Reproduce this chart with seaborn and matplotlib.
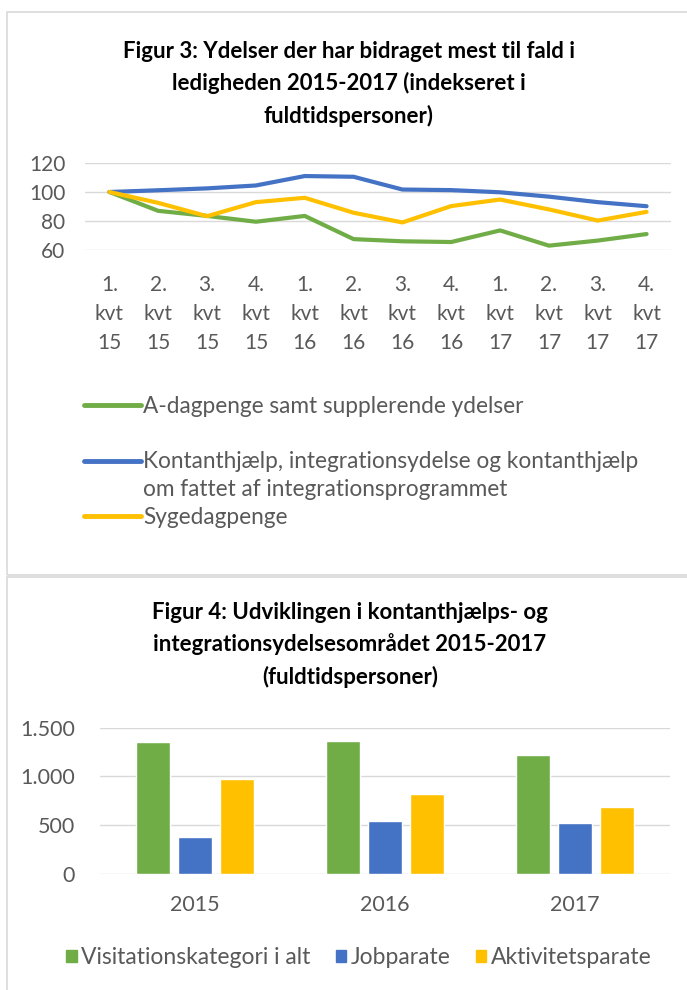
import numpy as np
import pandas as pd
import matplotlib
matplotlib.use("Agg")
import matplotlib.pyplot as plt
import seaborn as sns
from matplotlib.lines import Line2D
from matplotlib.patches import Rectangle, Patch
from matplotlib.ticker import FuncFormatter

# Figur 3 data (indekseret, 1. kvt 15 = 100)
quarters = ["1.\nkvt\n15", "2.\nkvt\n15", "3.\nkvt\n15", "4.\nkvt\n15",
            "1.\nkvt\n16", "2.\nkvt\n16", "3.\nkvt\n16", "4.\nkvt\n16",
            "1.\nkvt\n17", "2.\nkvt\n17", "3.\nkvt\n17", "4.\nkvt\n17"]
a_dagpenge = [100, 87, 83.5, 79.5, 83.5, 67.5, 66, 65.5, 73.5, 63, 66.5, 71]
kontanthjaelp = [100, 101.2, 102.5, 104.5, 111, 110.5, 101.7, 101.3, 99.8, 96.8, 93, 90.2]
sygedagpenge = [100, 92.5, 83.3, 93, 96, 85.7, 79, 90.3, 94.8, 88, 80.3, 86.3]
line_names = ["A-dagpenge samt supplerende ydelser",
              "Kontanthjælp, integrationsydelse og kontanthjælp",
              "Sygedagpenge"]
line_name_extra = "om fattet af integrationsprogrammet"

# Figur 4 data (fuldtidspersoner)
years = ["2015", "2016", "2017"]
visitation_i_alt = [1350, 1365, 1222]
jobparate = [374, 541, 524]
aktivitetsparate = [970, 820, 690]
bar_names = ["Visitationskategori i alt", "Jobparate", "Aktivitetsparate"]

GREEN, BLUE, YELLOW = "#70AD47", "#4472C4", "#FFC000"
GRID = "#D9D9D9"
TXT = "#595959"

sns.set_theme(style="white")
plt.rcParams["font.family"] = ["Lato", "DejaVu Sans"]

W, H = 687, 990
fig = plt.figure(figsize=(W / 100, H / 100), dpi=100)


def fx(px):
    return px / W


def fy(py):
    return 1 - py / H


# panel borders
fig.add_artist(Rectangle((fx(7), fy(575)), fx(700), fy(12) - fy(575), transform=fig.transFigure,
                         fill=False, edgecolor=GRID, lw=1.2))
fig.add_artist(Rectangle((fx(7), fy(1010)), fx(700), fy(577) - fy(1010), transform=fig.transFigure,
                         fill=False, edgecolor=GRID, lw=1.2))

# ---------- Figur 3 ----------
df_line = pd.DataFrame({
    "Kvartal": quarters * 3,
    "Indeks": a_dagpenge + kontanthjaelp + sygedagpenge,
    "Ydelse": [line_names[0]] * 12 + [line_names[1]] * 12 + [line_names[2]] * 12,
})

ax1 = fig.add_axes([fx(85), fy(250), fx(671) - fx(85), fy(163) - fy(250)])
sns.lineplot(data=df_line, x="Kvartal", y="Indeks", hue="Ydelse", sort=False,
             palette=[GREEN, BLUE, YELLOW], linewidth=3, ax=ax1, legend=False)
for ln in ax1.lines:
    ln.set_solid_capstyle("round")
    ln.set_solid_joinstyle("round")
ax1.set_ylim(60, 120)
ax1.set_yticks([60, 80, 100, 120])
ax1.set_xlim(-0.5, 11.5)
ax1.set_xticks(range(12))
ax1.set_xticklabels(quarters, linespacing=1.55)
ax1.set_xlabel("")
ax1.set_ylabel("")
ax1.grid(axis="y", color=GRID, lw=1)
ax1.set_axisbelow(True)
sns.despine(ax=ax1, left=True, bottom=True)
ax1.tick_params(axis="both", length=0, labelsize=15, colors=TXT)
ax1.tick_params(axis="y", pad=14)
ax1.tick_params(axis="x", pad=18)

fig.text(fx(349), fy(84), "Figur 3: Ydelser der har bidraget mest til fald i\n"
         "ledigheden 2015-2017 (indekseret i\nfuldtidspersoner)",
         ha="center", va="center", fontsize=16, fontweight="bold", linespacing=1.6, color="black")

handles = [Line2D([], [], color=GREEN, lw=3.5),
           Line2D([], [], color="none"),
           Line2D([], [], color=BLUE, lw=3.5),
           Line2D([], [], color="none"),
           Line2D([], [], color=YELLOW, lw=3.5)]
labels = [line_names[0], " ", line_names[1], line_name_extra, line_names[2]]
fig.legend(handles, labels, loc="center left", bbox_to_anchor=(fx(84), fy(462)),
           frameon=False, fontsize=16.3, labelcolor=TXT, handlelength=2.5, handletextpad=0.1,
           labelspacing=0.3, borderpad=0, borderaxespad=0)

# ---------- Figur 4 ----------
df_bar = pd.DataFrame({
    "År": years * 3,
    "Fuldtidspersoner": visitation_i_alt + jobparate + aktivitetsparate,
    "Kategori": [bar_names[0]] * 3 + [bar_names[1]] * 3 + [bar_names[2]] * 3,
})

ax2 = fig.add_axes([fx(100), fy(874), fx(670) - fx(100), fy(727.5) - fy(874)])
sns.barplot(data=df_bar, x="År", y="Fuldtidspersoner", hue="Kategori",
            palette=[GREEN, BLUE, YELLOW], saturation=1, width=0.66, gap=0.2,
            ax=ax2, legend=False)
ax2.set_ylim(0, 1500)
ax2.set_yticks([0, 500, 1000, 1500])
ax2.yaxis.set_major_formatter(FuncFormatter(lambda v, p: f"{v:,.0f}".replace(",", ".")))
ax2.set_xlim(-0.5, 2.5)
ax2.set_xlabel("")
ax2.set_ylabel("")
ax2.grid(axis="y", color=GRID, lw=1)
ax2.set_axisbelow(True)
sns.despine(ax=ax2, left=True, bottom=True)
ax2.tick_params(axis="both", length=0, labelsize=15.5, colors=TXT)
ax2.tick_params(axis="y", pad=18)
ax2.tick_params(axis="x", pad=15)

fig.text(fx(350), fy(645), "Figur 4: Udviklingen i kontanthjælps- og\n"
         "integrationsydelsesområdet 2015-2017\n(fuldtidspersoner)",
         ha="center", va="center", fontsize=16, fontweight="bold", linespacing=1.6, color="black")

bar_handles = [Patch(color=GREEN), Patch(color=BLUE), Patch(color=YELLOW)]
fig.legend(bar_handles, bar_names, loc="center", bbox_to_anchor=(fx(359), fy(958)),
           ncol=3, frameon=False, fontsize=16.5, labelcolor=TXT, handlelength=0.45,
           handleheight=0.45, handletextpad=0.2, columnspacing=1.1, borderpad=0, borderaxespad=0)

fig.savefig("out.png", dpi=100)
